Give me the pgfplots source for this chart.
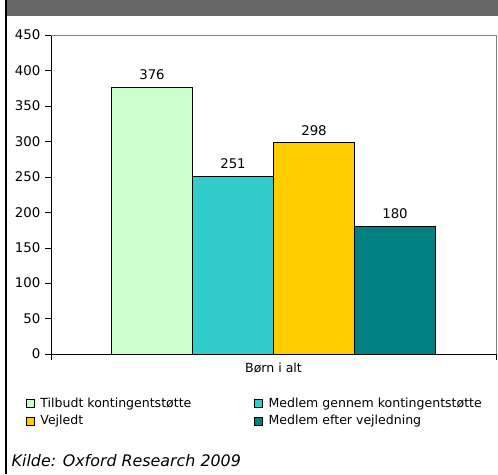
\documentclass[border=0pt]{standalone}
\usepackage{pgfplots}
\pgfplotsset{compat=1.18}
\usepackage{fontspec}
\setmainfont{DejaVu Sans}
\definecolor{tilbudt}{HTML}{CCFFCC}
\definecolor{gennem}{HTML}{33CCCC}
\definecolor{vejledt}{HTML}{FFCC00}
\definecolor{efter}{HTML}{008080}
\definecolor{hdr}{HTML}{666666}
\definecolor{frame}{HTML}{808080}
\begin{document}
\begin{tikzpicture}[x=0.75pt,y=0.75pt]
\useasboundingbox (0,0) rectangle (498,474);
\fill[hdr] (7,458) rectangle (498,474);
\draw[black, line width=0.8pt] (6,0) -- (6,474);
\begin{axis}[
  at={(38.25pt,90pt)}, anchor=south west,
  scale only axis, width=333.75pt, height=239.25pt,
  ybar=0pt, bar width=60.75pt,
  xmin=-1, xmax=1, ymin=0, ymax=450,
  ytick={0,50,...,450},
  xtick={-1,1}, xticklabels={,},
  extra x ticks={0}, extra x tick labels={Børn i alt},
  extra x tick style={major tick length=0pt, ticklabel style={yshift=-3pt, font=\fontsize{9.4}{11}\selectfont}},
  axis x line*=bottom, axis y line*=left,
  axis line style={-, black},
  tick align=outside, major tick length=4.5pt,
  tick style={black},
  ticklabel style={font=\fontsize{10}{12}\selectfont},
  /pgf/number format/assume math mode=true,
  nodes near coords,
  every node near coord/.append style={font=\fontsize{10}{12}\selectfont, yshift=2pt},
  clip=false,
  every axis plot post/.append style={legend image code/.code={\draw[#1, draw=black] (0pt,-3pt) rectangle (6pt,3pt);}},
  legend style={at={(-0.066,-0.12)}, anchor=north west, draw=none, fill=none,
    legend columns=2, font=\fontsize{9.4}{11}\selectfont, row sep=0.5pt,
    /tikz/column 1/.style={column sep=2.5pt},
    /tikz/column 2/.style={column sep=45pt},
    /tikz/column 3/.style={column sep=2.5pt}},
  legend cell align=left,
]
\addplot[fill=tilbudt, draw=black] coordinates {(0,376)};
\addlegendentry{Tilbudt kontingentstøtte}
\addplot[fill=gennem, draw=black] coordinates {(0,251)};
\addlegendentry{Medlem gennem kontingentstøtte}
\addplot[fill=vejledt, draw=black] coordinates {(0,298)};
\addlegendentry{Vejledt}
\addplot[fill=efter, draw=black] coordinates {(0,180)};
\addlegendentry{Medlem efter vejledning}
\draw[frame] (rel axis cs:0,1) -- (rel axis cs:1,1) -- (rel axis cs:1,0);
\end{axis}
\node[anchor=base west, font=\itshape\fontsize{11.9}{13}\selectfont] at (7,8) {Kilde: Oxford Research 2009};
\end{tikzpicture}
\end{document}
